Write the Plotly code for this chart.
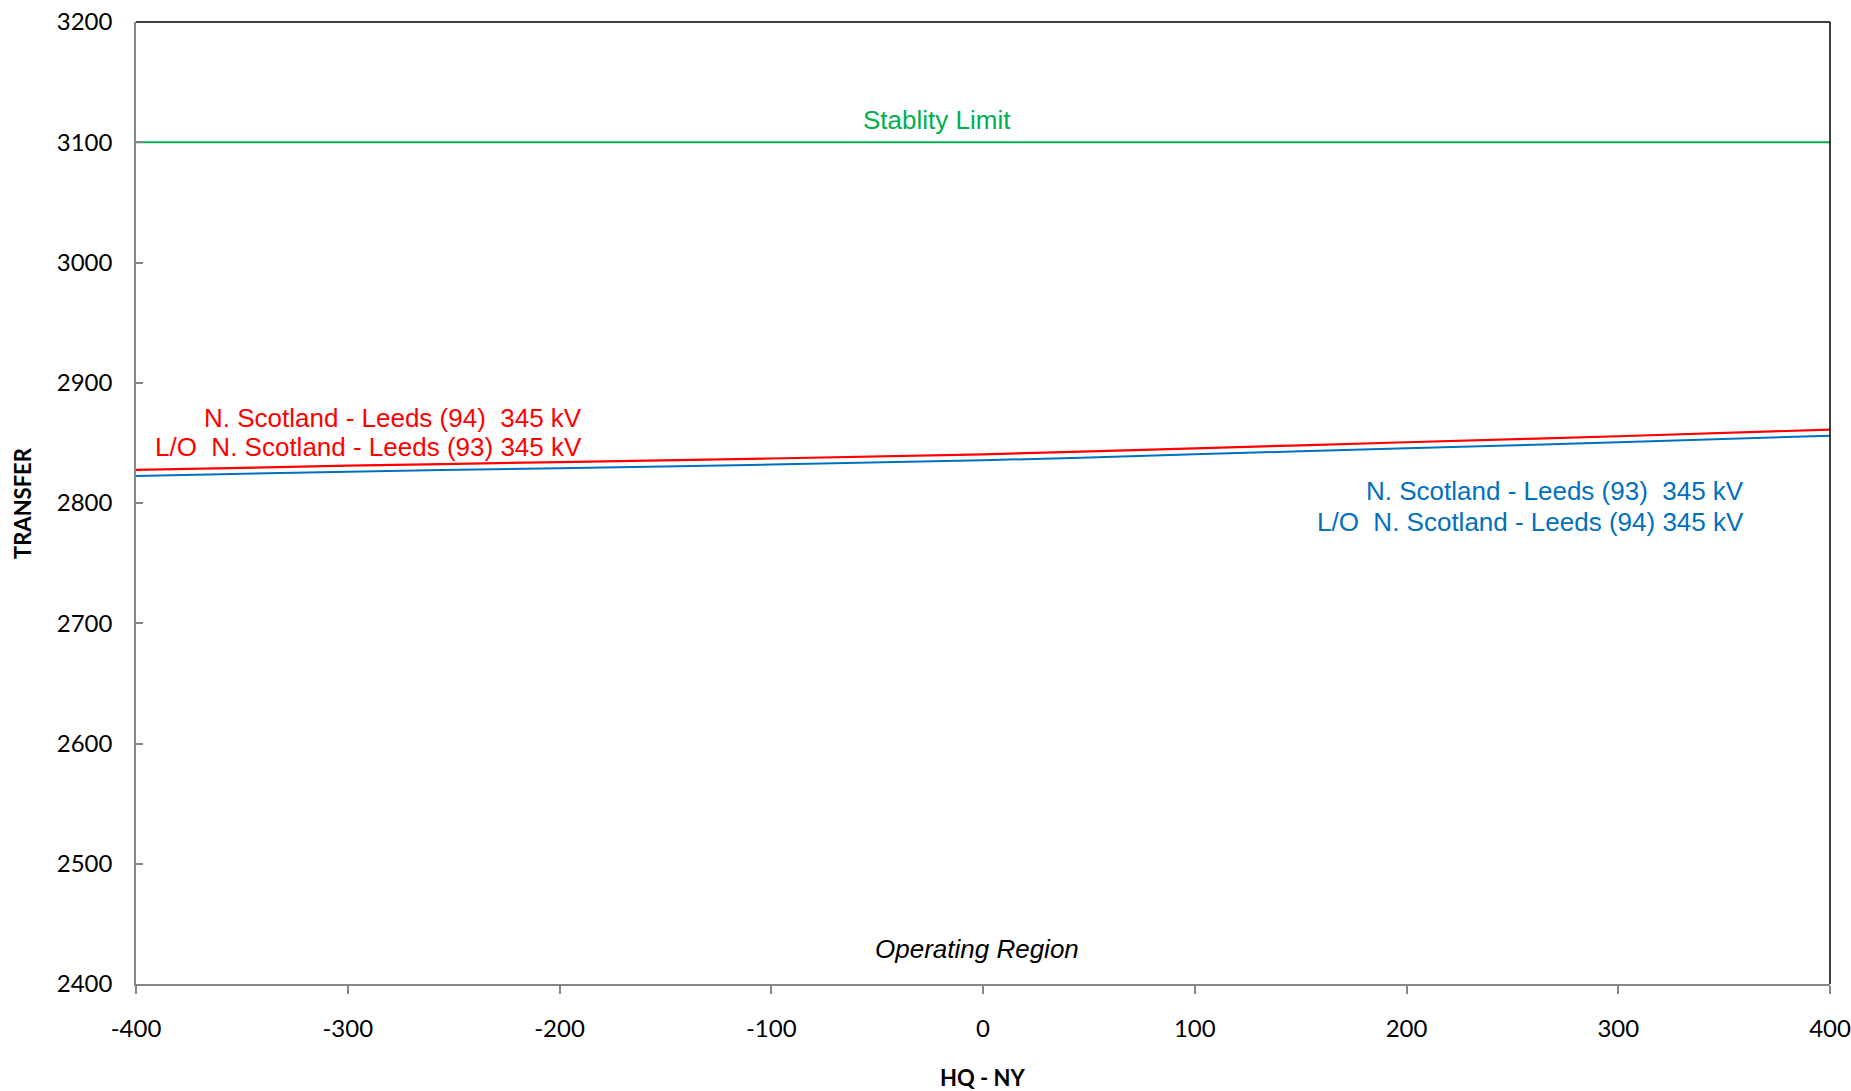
import plotly.graph_objects as go

hq_ny = [-400, -300, -200, -100, 0, 100, 200, 300, 400]
red_transfer = [2827.5, 2831, 2834, 2837, 2840.5, 2845.5, 2850.5, 2855.5, 2861]
blue_transfer = [2822.5, 2826, 2829, 2832, 2835.5, 2840.5, 2845.5, 2850.5, 2856]
stability_x = [-400, 400]
stability_y = [3100, 3100]

x_ticks = [-400, -300, -200, -100, 0, 100, 200, 300, 400]
y_ticks = [2400, 2500, 2600, 2700, 2800, 2900, 3000, 3100, 3200]

RED = "#FF0000"
BLUE = "#0070C0"
GREEN = "#00B050"
GRAY = "#868686"
TICKFONT = dict(family="Lato, Open Sans, sans-serif", size=24, color="black")
ARIAL = "Liberation Sans, Arial, sans-serif"

fig = go.Figure()
fig.add_trace(go.Scatter(x=stability_x, y=stability_y, mode="lines",
                         line=dict(color=GREEN, width=2), hoverinfo="skip"))
fig.add_trace(go.Scatter(x=hq_ny, y=blue_transfer, mode="lines",
                         line=dict(color=BLUE, width=2), line_shape="spline"))
fig.add_trace(go.Scatter(x=hq_ny, y=red_transfer, mode="lines",
                         line=dict(color=RED, width=2.2), line_shape="spline"))

fig.update_layout(
    width=1851, height=1091,
    margin=dict(l=136, r=21, t=22, b=107),
    plot_bgcolor="white", paper_bgcolor="white",
    showlegend=False,
    xaxis=dict(range=[-400, 400], tickvals=x_ticks, ticktext=[str(v) for v in x_ticks],
               showgrid=False, zeroline=False, showline=True, linecolor=GRAY, linewidth=1.5,
               ticks="outside", ticklen=8, tickcolor=GRAY, tickwidth=1.5,
               tickfont=TICKFONT, ticklabelstandoff=14, automargin=False),
    yaxis=dict(range=[2400, 3200], tickvals=y_ticks, ticktext=[str(v) for v in y_ticks],
               showgrid=False, zeroline=False, showline=True, linecolor=GRAY, linewidth=1.5,
               ticks="inside", ticklen=7, tickcolor=GRAY, tickwidth=1.5,
               tickfont=TICKFONT, ticklabelstandoff=17, automargin=False),
)

# top and right borders in black
fig.add_shape(type="line", xref="paper", yref="paper", x0=0, x1=1, y0=1, y1=1,
              line=dict(color="black", width=1.5))
fig.add_shape(type="line", xref="paper", yref="paper", x0=1, x1=1, y0=0, y1=1,
              line=dict(color="black", width=1.5))

labels = [
    (-188.4, 2870.7, "N. Scotland - Leeds (94)&nbsp; 345 kV", RED),
    (-188.4, 2846.6, "L/O&nbsp; N. Scotland - Leeds (93) 345 kV", RED),
    (360.5, 2810.0, "N. Scotland - Leeds (93)&nbsp; 345 kV", BLUE),
    (360.5, 2784.2, "L/O&nbsp; N. Scotland - Leeds (94) 345 kV", BLUE),
]
for lx, ly, txt, col in labels:
    fig.add_annotation(x=lx, y=ly, xref="x", yref="y", xanchor="right", yanchor="middle",
                       showarrow=False, text=txt,
                       font=dict(family=ARIAL, size=26, color=col))

fig.add_annotation(x=-21.7, y=3118.5, xref="x", yref="y", xanchor="center", yanchor="middle",
                   showarrow=False, text="Stablity Limit",
                   font=dict(family=ARIAL, size=26, color=GREEN))
fig.add_annotation(x=-3, y=2429, xref="x", yref="y", xanchor="center", yanchor="middle",
                   showarrow=False, text="<i>Operating Region</i>",
                   font=dict(family=ARIAL, size=26, color="black"))
fig.add_annotation(x=0.5, y=-0.0968, xref="paper", yref="paper", xanchor="center", yanchor="middle",
                   showarrow=False, text="<b>HQ - NY</b>",
                   font=dict(family="Lato, Open Sans, sans-serif", size=22, color="black"))
fig.add_annotation(x=-0.0673, y=0.5, xref="paper", yref="paper", xanchor="center", yanchor="middle",
                   showarrow=False, text="<b>TRANSFER</b>", textangle=-90,
                   font=dict(family="Lato, Open Sans, sans-serif", size=22, color="black"))

fig.write_html("out.html", config={"displayModeBar": False},
               post_script="document.body.style.margin='0';document.body.style.overflow='hidden';")
